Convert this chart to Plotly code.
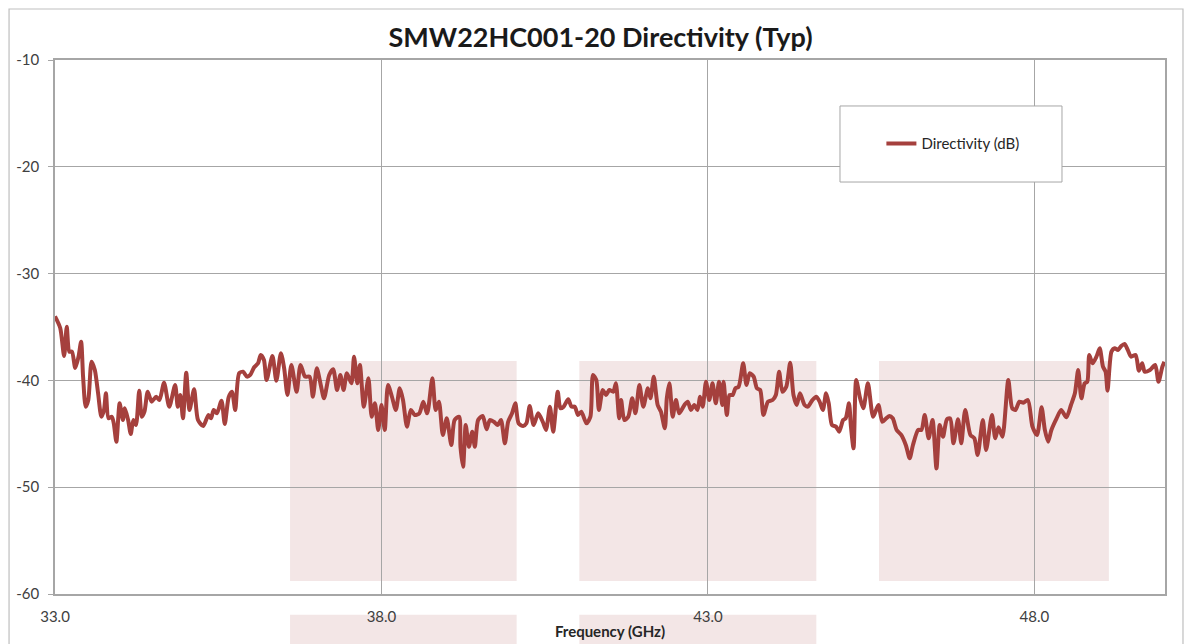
import plotly.graph_objects as go

# ---- data ----
freq_ghz = [
    33.00, 33.08, 33.14, 33.18, 33.22, 33.26, 33.31, 33.36, 33.40, 33.43, 33.47, 33.51,
    33.56, 33.61, 33.66, 33.71, 33.75, 33.78, 33.82, 33.87, 33.90, 33.94, 33.99, 34.04,
    34.07, 34.12, 34.16, 34.20, 34.24, 34.29, 34.33, 34.37, 34.42, 34.48, 34.55, 34.60,
    34.67, 34.75, 34.84, 34.88, 34.92, 34.96, 35.01, 35.06, 35.13, 35.19, 35.27, 35.35,
    35.39, 35.43, 35.48, 35.55, 35.60, 35.66, 35.71, 35.76, 35.82, 35.88, 35.94, 35.99,
    36.05, 36.11, 36.15, 36.20, 36.24, 36.33, 36.39, 36.46, 36.51, 36.56, 36.62, 36.70,
    36.76, 36.83, 36.90, 36.95, 37.01, 37.07, 37.12, 37.20, 37.26, 37.32, 37.37, 37.42,
    37.47, 37.54, 37.58, 37.63, 37.67, 37.73, 37.80, 37.85, 37.90, 37.95, 38.00, 38.05,
    38.10, 38.16, 38.22, 38.28, 38.33, 38.39, 38.45, 38.51, 38.58, 38.64, 38.70, 38.78,
    38.83, 38.88, 38.94, 39.00, 39.07, 39.12, 39.19, 39.21, 39.25, 39.29, 39.34, 39.39,
    39.43, 39.48, 39.55, 39.61, 39.66, 39.72, 39.78, 39.83, 39.89, 39.94, 40.00, 40.05,
    40.10, 40.17, 40.22, 40.27, 40.33, 40.40, 40.47, 40.52, 40.58, 40.63, 40.70, 40.74,
    40.79, 40.86, 40.91, 40.96, 41.01, 41.06, 41.14, 41.20, 41.24, 41.29, 41.33, 41.39,
    41.44, 41.49, 41.55, 41.59, 41.64, 41.67, 41.72, 41.78, 41.84, 41.89, 41.95, 42.01,
    42.08, 42.12, 42.17, 42.23, 42.28, 42.34, 42.37, 42.41, 42.46, 42.51, 42.56, 42.64,
    42.69, 42.74, 42.79, 42.84, 42.88, 42.92, 42.97, 43.02, 43.07, 43.12, 43.17, 43.22,
    43.24, 43.29, 43.33, 43.38, 43.42, 43.47, 43.54, 43.59, 43.64, 43.70, 43.75, 43.80,
    43.85, 43.92, 43.99, 44.04, 44.09, 44.14, 44.20, 44.26, 44.31, 44.36, 44.41, 44.48,
    44.53, 44.60, 44.66, 44.71, 44.76, 44.81, 44.85, 44.90, 44.96, 45.01, 45.07, 45.11,
    45.16, 45.19, 45.23, 45.27, 45.33, 45.38, 45.45, 45.53, 45.61, 45.67, 45.73, 45.78,
    45.83, 45.89, 45.96, 46.03, 46.09, 46.14, 46.22, 46.27, 46.32, 46.38, 46.44, 46.50,
    46.55, 46.60, 46.66, 46.71, 46.76, 46.83, 46.88, 46.94, 47.02, 47.08, 47.13, 47.21,
    47.26, 47.35, 47.40, 47.45, 47.51, 47.60, 47.66, 47.71, 47.77, 47.83, 47.90, 47.97,
    48.04, 48.11, 48.16, 48.21, 48.26, 48.34, 48.41, 48.49, 48.56, 48.62, 48.67, 48.72,
    48.77, 48.81, 48.84, 48.89, 48.95, 49.00, 49.05, 49.09, 49.12, 49.18, 49.23, 49.28,
    49.33, 49.38, 49.43, 49.48, 49.55, 49.60, 49.65, 49.69, 49.77, 49.85, 49.90, 49.96,
    49.99,
]

directivity_db = [
    -34.00, -35.09, -37.72, -34.97, -37.31, -37.31, -38.84, -37.78, -36.38, -39.65, -42.46, -41.84,
    -38.25, -39.03, -41.21, -43.40, -42.77, -41.21, -43.55, -43.40, -44.02, -45.74, -42.15, -43.71,
    -42.61, -43.71, -45.02, -43.71, -44.18, -40.96, -43.40, -42.93, -41.06, -41.99, -41.53, -41.84,
    -40.22, -42.46, -40.43, -42.46, -41.37, -43.55, -39.28, -42.77, -40.83, -43.71, -44.27, -43.24,
    -43.55, -42.77, -43.08, -41.90, -44.08, -41.58, -41.06, -42.77, -39.33, -39.19, -39.65, -39.49,
    -38.77, -38.40, -37.62, -38.09, -39.96, -37.72, -40.03, -37.46, -38.87, -41.37, -38.56, -41.06,
    -38.56, -39.65, -39.65, -41.53, -38.87, -40.43, -41.68, -39.49, -38.96, -40.90, -39.49, -40.90,
    -39.33, -40.27, -37.78, -40.27, -38.56, -42.46, -39.80, -43.40, -42.15, -44.64, -42.30, -44.64,
    -40.43, -41.53, -42.77, -40.74, -41.84, -44.33, -42.77, -43.24, -43.08, -41.99, -43.08, -39.80,
    -42.77, -41.99, -45.11, -43.55, -46.05, -43.71, -43.40, -46.21, -48.08, -44.18, -46.21, -44.80,
    -46.21, -43.71, -43.33, -44.58, -43.71, -43.87, -44.18, -43.71, -45.89, -43.87, -43.08, -42.15,
    -44.02, -44.27, -44.02, -42.40, -44.18, -43.08, -43.87, -44.64, -42.46, -44.80, -41.06, -42.61,
    -42.46, -41.77, -42.46, -42.46, -43.24, -42.93, -44.02, -43.40, -39.49, -39.96, -42.77, -40.90,
    -41.37, -40.90, -41.06, -40.27, -43.55, -41.84, -43.71, -43.40, -41.68, -43.08, -40.43, -42.46,
    -40.74, -41.68, -39.65, -42.30, -42.93, -44.49, -41.68, -40.27, -43.40, -41.84, -43.08, -42.30,
    -41.99, -42.77, -42.30, -42.77, -41.53, -42.46, -40.12, -41.84, -40.27, -42.15, -40.12, -42.30,
    -40.12, -43.24, -41.37, -41.37, -40.74, -40.59, -38.40, -40.43, -39.33, -39.65, -40.74, -40.90,
    -43.24, -41.99, -41.84, -41.37, -39.19, -41.06, -40.59, -38.34, -41.37, -42.30, -41.21, -42.30,
    -42.46, -41.84, -41.53, -41.99, -42.77, -41.21, -42.15, -44.18, -44.33, -44.80, -43.71, -43.55,
    -42.15, -44.33, -46.36, -39.96, -41.68, -42.61, -40.27, -43.40, -42.30, -43.87, -43.55, -43.33,
    -43.55, -44.64, -45.11, -46.05, -47.29, -46.05, -44.64, -44.64, -43.24, -45.42, -43.71, -48.24,
    -44.18, -45.27, -43.64, -43.55, -45.89, -43.64, -45.89, -42.77, -45.11, -45.42, -46.99, -43.71,
    -46.52, -43.24, -45.42, -44.39, -45.27, -39.96, -42.61, -42.77, -41.99, -42.09, -41.84, -44.33,
    -45.11, -42.52, -44.64, -45.74, -44.64, -43.55, -42.77, -43.46, -42.30, -41.21, -39.03, -41.68,
    -40.27, -40.12, -37.62, -38.40, -37.78, -36.99, -38.72, -39.19, -40.96, -37.31, -36.99, -37.15,
    -36.78, -36.59, -37.15, -37.78, -37.62, -39.09, -38.40, -39.19, -39.03, -38.56, -40.12, -38.72,
    -38.25,
]

x_tick_vals = [33, 38, 43, 48]
x_tick_text = ["33.0", "38.0", "43.0", "48.0"]
y_tick_vals = [-60, -50, -40, -30, -20, -10]
y_tick_text = ["-60", "-50", "-40", "-30", "-20", "-10"]

# background watermark blocks (GHz / dB)
band_starts = [36.60, 41.03, 45.62]
band_ends = [40.07, 44.66, 49.14]
band_top = -38.18
band_bottom = -58.78

title_text = "SMW22HC001-20 Directivity (Typ)"
series_name = "Directivity (dB)"
x_title = "Frequency (GHz)"

LINE_COLOR = "#A5403D"
GRID = "#A6A6A6"
PINK = "#F3E6E6"
FONT = "Lato, 'Open Sans', sans-serif"

fig = go.Figure()
fig.add_trace(go.Scatter(
    x=freq_ghz, y=directivity_db, mode="lines", name=series_name,
    line=dict(color=LINE_COLOR, width=4, shape="spline", smoothing=0.7),
    showlegend=True,
))

shapes = []
for s, e in zip(band_starts, band_ends):
    shapes.append(dict(type="rect", xref="x", yref="y", x0=s, x1=e, y0=band_bottom, y1=band_top,
                       fillcolor=PINK, line=dict(width=0), layer="below"))
# parts of the watermark visible below the plot area
for s, e in zip(band_starts[:2], band_ends[:2]):
    shapes.append(dict(type="rect", xref="x", yref="paper", x0=s, x1=e, y0=-0.25, y1=-0.039,
                       fillcolor=PINK, line=dict(width=0), layer="below"))
# outer chart border
shapes.append(dict(type="rect", xref="paper", yref="paper", x0=-0.0414, x1=1.0162, y0=-0.3, y1=1.0955,
                   fillcolor="rgba(0,0,0,0)", line=dict(color="#BFBFBF", width=1.2), layer="below"))
# legend box
shapes.append(dict(type="rect", xref="paper", yref="paper", x0=0.7072, x1=0.9072, y0=0.7715, y1=0.9139,
                   fillcolor="white", line=dict(color="#A6A6A6", width=1), layer="above"))

fig.update_layout(
    width=1185, height=636,
    margin=dict(l=47, r=28, t=52, b=50),
    paper_bgcolor="white", plot_bgcolor="white",
    font=dict(family=FONT, color="#404040", size=15),
    title=dict(text="<b>" + title_text + "</b>", x=0.5, xanchor="center", y=1 - 30 / 636, yanchor="middle",
               font=dict(family=FONT, size=27, color="#1A1A1A")),
    showlegend=True,
    legend=dict(x=0.7445, y=0.843, xanchor="left", yanchor="middle", bgcolor="rgba(0,0,0,0)",
                borderwidth=0, font=dict(family=FONT, size=15, color="#262626")),
    shapes=shapes,
)
fig.update_xaxes(
    range=[33, 50], tickvals=x_tick_vals, ticktext=x_tick_text, automargin=False,
    showgrid=True, gridcolor=GRID, gridwidth=1,
    showline=True, linecolor=GRID, linewidth=1.5, mirror=True,
    ticks="outside", ticklen=8, tickcolor="rgba(0,0,0,0)",
    tickfont=dict(size=15, color="#404040"),
    title=dict(text="<b>" + x_title + "</b>", font=dict(size=15, color="#262626"), standoff=3),
    zeroline=False,
)
fig.update_yaxes(
    range=[-60, -10], tickvals=y_tick_vals, ticktext=y_tick_text, automargin=False,
    showgrid=True, gridcolor=GRID, gridwidth=1,
    showline=True, linecolor=GRID, linewidth=1.5, mirror=True,
    ticks="outside", ticklen=5, tickcolor=GRID, ticklabelstandoff=6,
    tickfont=dict(size=15, color="#404040"),
    zeroline=False,
)

fig.write_html("out.html")
